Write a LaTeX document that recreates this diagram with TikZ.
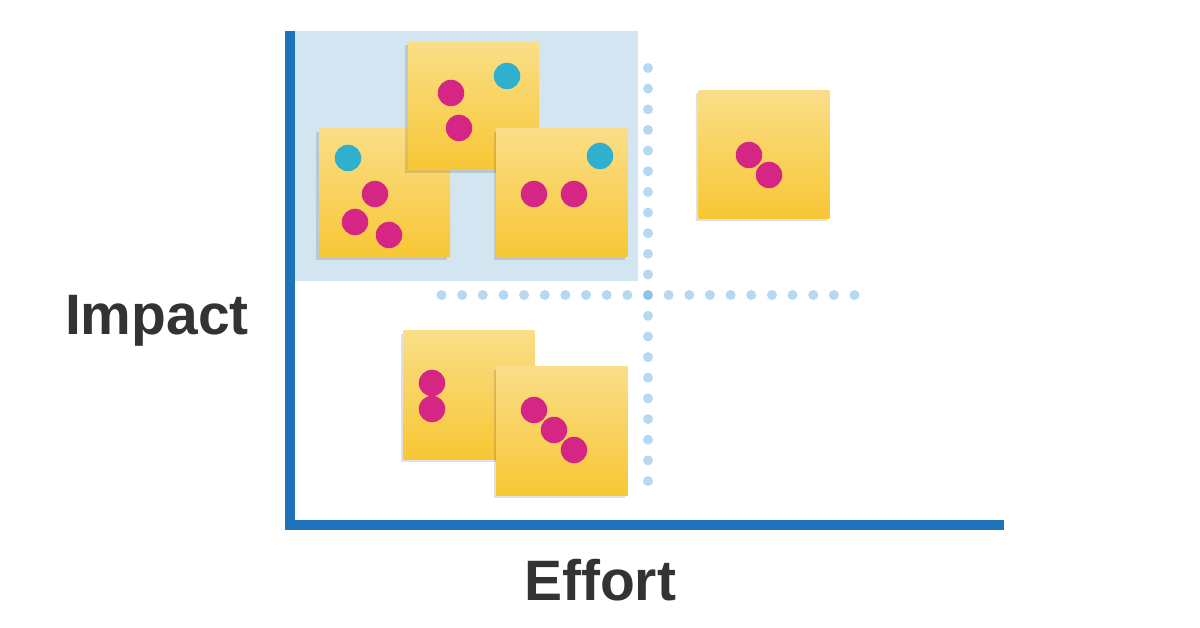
\documentclass[tikz,border=0pt]{standalone}
\usepackage{fontspec}
\setmainfont{Liberation Sans}
\usetikzlibrary{shadows}
\definecolor{axisblue}{RGB}{30,116,187}
\definecolor{zoneblue}{RGB}{211,229,241}
\definecolor{gridblue}{RGB}{93,170,224}
\definecolor{notetop}{RGB}{250,222,136}
\definecolor{notebottom}{RGB}{247,199,52}
\definecolor{votepink}{RGB}{213,38,133}
\definecolor{votecyan}{RGB}{47,176,207}
\definecolor{labelgrey}{RGB}{51,51,51}

\begin{document}
\begin{tikzpicture}[x=1pt, y=-1pt,
    note/.style={minimum width=131pt, minimum height=128pt, inner sep=0pt,
      top color=notetop, bottom color=notebottom,
      drop shadow={shadow xshift=-3pt, shadow yshift=-3pt, opacity=0.12, fill=black}},
    vote/.style={circle, inner sep=0pt, minimum size=26.5pt, fill=votepink},
    votecyan/.style={vote, fill=votecyan},
    gridline/.style={gridblue, opacity=0.45, line width=10pt, line cap=round,
      dash pattern=on 0pt off 20.65pt},
    axislabel/.style={labelgrey, font=\bfseries\fontsize{57}{60}\selectfont, anchor=base}]
  \useasboundingbox (0,0) rectangle (1200,628);

  % Quick wins zone
  \fill[zoneblue] (295,31) rectangle (638,281);

  % Quadrant grid
  \draw[gridline] (648,68) -- (648,482);
  \draw[gridline] (441.5,295) -- (857,295);

  % Axes
  \coordinate (origin) at (290,525);
  \draw[axisblue, line width=10pt] (290,31) -- (origin) -- (1004,525);
  \node[axislabel] (impact) at (157,335) {Impact};
  \node[axislabel] (effort) at (600,600) {Effort};

  % Sticky notes, high impact
  \node[note] (left) at (384.5,193) {};
  \node[votecyan] (left1) at (348,158) {};
  \node[vote] (left2) at (375,194) {};
  \node[vote] (left3) at (355,222) {};
  \node[vote] (left4) at (389,235) {};

  \node[note] (top) at (473.5,106) {};
  \node[vote] (top1) at (451,93) {};
  \node[vote] (top2) at (459,128) {};
  \node[votecyan] (top3) at (507,76) {};

  \node[note] (right) at (562,193) {};
  \node[votecyan] (right1) at (600,156) {};
  \node[vote] (right2) at (534,194) {};
  \node[vote] (right3) at (574,194) {};

  \node[note] (far) at (764,154.5) {};
  \node[vote] (far1) at (749,155) {};
  \node[vote] (far2) at (769,175) {};

  % Sticky notes, low impact
  \node[note] (low) at (469,395) {};
  \node[vote] (low1) at (432,383) {};
  \node[vote] (low2) at (432,409) {};

  \node[note] (lowright) at (562,431) {};
  \node[vote] (lowright1) at (534,410) {};
  \node[vote] (lowright2) at (554,430) {};
  \node[vote] (lowright3) at (574,450) {};
\end{tikzpicture}
\end{document}
